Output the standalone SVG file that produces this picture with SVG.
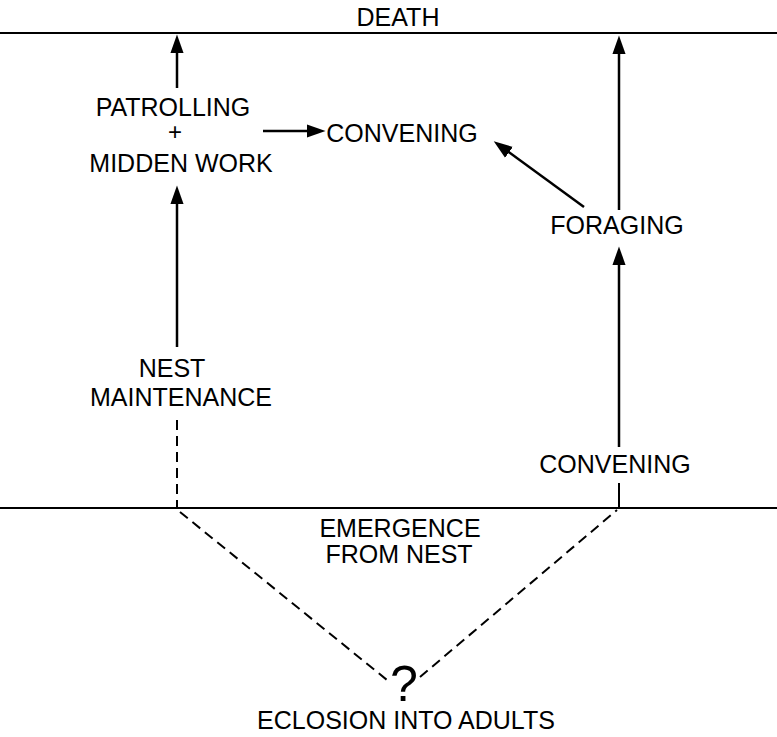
<svg xmlns="http://www.w3.org/2000/svg" width="777" height="737" viewBox="0 0 777 737">
<style>
text{font-family:"Liberation Sans",Arial,sans-serif;font-size:25px;fill:#000;text-anchor:middle}
.rule{stroke:#000;stroke-width:2;fill:none}
.arr{stroke:#000;stroke-width:2.5;fill:none;marker-end:url(#ah)}
.dash{stroke:#000;stroke-width:2;fill:none;stroke-dasharray:10 6}
</style>
<defs>
<marker id="ah" markerUnits="userSpaceOnUse" markerWidth="20" markerHeight="14" viewBox="0 0 18 12" refX="3" refY="6" orient="auto">
<path d="M0,0 L17,6 L0,12 Z" fill="#000"/>
</marker>
</defs>
<rect width="777" height="737" fill="#fff"/>
<g id="boundaries">
<line class="rule" x1="0" y1="33" x2="777" y2="33"/>
<line class="rule" x1="0" y1="508" x2="777" y2="508"/>
</g>
<g id="death"><text x="398" y="26">DEATH</text></g>
<g id="patrolling"><text x="173" y="116">PATROLLING</text><text x="175" y="140" style="font-size:24px">+</text><text x="181" y="172">MIDDEN WORK</text></g>
<g id="convening-top"><text x="402" y="142">CONVENING</text></g>
<g id="foraging"><text x="617" y="234">FORAGING</text></g>
<g id="nest-maintenance"><text x="172" y="377">NEST</text><text x="181" y="406">MAINTENANCE</text></g>
<g id="convening-bottom"><text x="615" y="473">CONVENING</text></g>
<g id="emergence"><text x="400" y="537">EMERGENCE</text><text x="399" y="563">FROM NEST</text></g>
<g id="eclosion"><text x="404" y="701" style="font-size:50px">?</text><text x="406" y="729">ECLOSION INTO ADULTS</text></g>
<g id="connectors">
<line class="arr" x1="177" y1="88" x2="177" y2="50"/>
<line class="arr" x1="177" y1="347" x2="177" y2="201"/>
<line class="arr" x1="263" y1="131" x2="310" y2="131"/>
<line class="arr" x1="584" y1="207" x2="506.3" y2="150.3"/>
<line class="arr" x1="619" y1="210" x2="619" y2="51"/>
<line class="arr" x1="619" y1="447" x2="619" y2="262"/>
<line class="rule" x1="619" y1="483" x2="619" y2="508"/>
<line class="dash" x1="177" y1="420" x2="177" y2="508"/>
<line class="dash" x1="180" y1="512" x2="387" y2="680"/>
<line class="dash" x1="420" y1="677" x2="617" y2="510"/>
</g>
</svg>
